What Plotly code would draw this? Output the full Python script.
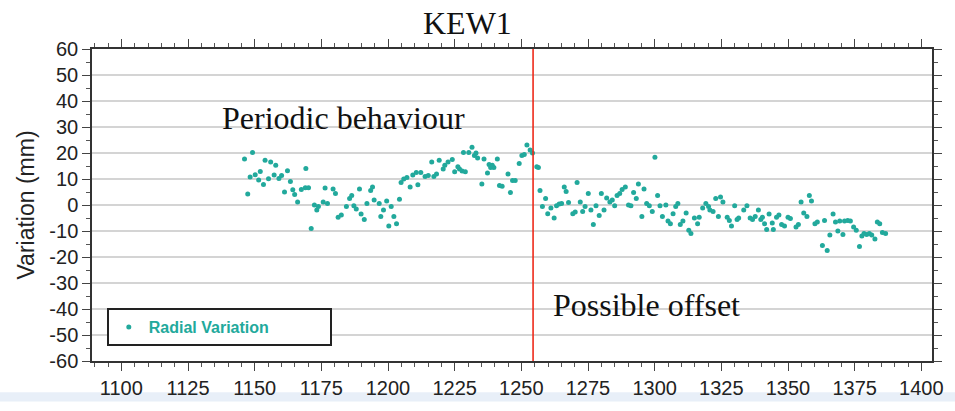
import plotly.graph_objects as go

days = [
    1146.2, 1147.4, 1148.3, 1149.2, 1150.2, 1151.5, 1152.1, 1153.3, 1153.9, 1155.2,
    1156.0, 1157.3, 1157.9, 1159.1, 1160.1, 1161.2, 1162.3, 1163.4, 1164.3, 1165.0,
    1166.1, 1167.5, 1169.0, 1169.2, 1170.2, 1171.2, 1172.4, 1173.3, 1173.9, 1175.7,
    1176.4, 1177.3, 1179.4, 1180.3, 1181.3, 1182.5, 1184.4, 1185.6, 1186.4, 1187.2,
    1188.1, 1189.3, 1189.9, 1191.1, 1192.1, 1193.5, 1194.2, 1194.8,
    1196.7, 1197.3, 1198.3, 1199.5, 1200.3, 1201.2, 1202.2, 1203.2, 1204.3, 1204.9,
    1205.9, 1207.1, 1208.3, 1209.3, 1210.6, 1211.2, 1212.3, 1213.9, 1215.1, 1216.4,
    1217.2, 1218.2, 1219.2, 1220.7, 1221.3, 1222.5, 1224.1, 1225.0, 1226.2, 1226.8,
    1227.8, 1228.3, 1229.0, 1230.3, 1231.5, 1232.4, 1233.0, 1233.6, 1235.2, 1236.0,
    1237.3, 1237.9, 1238.5, 1239.1, 1239.7, 1241.0, 1241.8, 1242.8, 1245.0, 1245.9,
    1246.7, 1247.7, 1249.2, 1250.2, 1251.1,
    1252.1, 1253.3, 1254.2, 1255.8, 1256.4, 1257.0, 1257.9, 1259.1, 1259.9, 1261.1,
    1262.3, 1263.2, 1264.2, 1265.1, 1266.1, 1266.8, 1267.7, 1269.3, 1270.2, 1270.9,
    1272.1, 1273.0, 1273.9, 1275.1, 1276.1, 1277.0, 1278.0, 1279.2, 1280.0, 1281.0,
    1282.0, 1283.2, 1284.1, 1285.0, 1285.9, 1286.9, 1287.8, 1289.0, 1290.2, 1291.1,
    1292.1, 1293.1, 1293.9, 1295.2, 1296.0, 1297.0, 1298.0, 1299.1, 1300.1, 1301.1,
    1302.0, 1302.9, 1304.2, 1305.0, 1305.9, 1306.9, 1307.9, 1308.7, 1309.6, 1310.6,
    1311.8, 1312.8, 1313.6,
    1314.9, 1316.1, 1316.7, 1318.0, 1319.2, 1320.2, 1320.7, 1321.9, 1322.9, 1323.9,
    1324.7, 1325.6, 1327.2, 1328.0, 1328.8, 1330.0, 1330.9, 1331.5, 1333.4, 1334.6,
    1335.8, 1336.7, 1337.7, 1338.9, 1339.8, 1340.4, 1341.2, 1342.0, 1342.9, 1344.1,
    1344.5, 1345.7, 1346.6, 1347.6, 1348.7, 1350.0, 1350.9, 1353.0, 1353.9, 1354.9,
    1355.9, 1357.1, 1358.0, 1358.8, 1360.1, 1361.0, 1362.9, 1363.7, 1364.7, 1365.7,
    1366.9, 1367.8, 1368.7, 1369.4, 1370.6, 1371.2, 1372.4, 1373.4, 1374.6, 1375.6,
    1376.8, 1377.7, 1378.5, 1379.5, 1380.5, 1381.4, 1382.6, 1383.5, 1384.4, 1385.4,
    1386.6,
]

radial_mm = [
    17.7, 4.2, 10.8, 20.2, 11.6, 9.6, 12.9, 7.9, 17.2, 10.1,
    16.5, 11.5, 15.3, 10.2, 11.3, 5.0, 13.2, 9.0, 5.9, 4.0,
    1.2, 6.0, 6.6, 14.0, 6.6, -9.0, 0.0, -1.9, -0.6, 1.2,
    6.5, 0.6, 6.2, 4.4, -4.7, -3.8, -0.6, 2.5, 3.7, -0.3,
    -1.5, 6.2, -3.5, -5.6, 0.6, 5.6, 6.9, 1.9,
    0.6, -4.4, -1.9, 1.5, -8.1, -0.6, -4.4, -7.2, 2.2, 8.7,
    10.0, 10.6, 6.9, 11.5, 12.5, 7.8, 12.5, 11.0, 11.3, 16.5,
    11.0, 11.9, 17.2, 13.8, 15.3, 16.5, 17.5, 12.8, 14.7, 13.8,
    13.1, 20.2, 12.8, 20.2, 22.2, 19.0, 20.0, 18.1, 8.1, 17.7,
    12.3, 15.6, 14.4, 15.3, 14.4, 17.7, 7.5, 7.2, 11.9, 4.8,
    9.4, 9.4, 16.0, 19.0, 19.4,
    23.1, 21.2, 20.0, 14.7, 14.4, 5.6, -0.6, 2.5, -3.4, -1.2,
    -5.0, -0.3, 0.4, 0.6, 6.9, 5.2, 1.0, -3.4, -2.7, 8.7,
    1.2, -2.5, -0.6, 4.4, -1.9, -7.5, -0.3, -4.0, 4.4, -1.9,
    2.7, 1.2, 1.9, -0.3, 3.7, 4.4, 6.0, 6.9, 0.0, -0.3,
    4.8, 2.5, 8.1, -4.4, 6.2, 0.6, -0.3, -2.5, 18.4, 3.7,
    -0.3, -4.4, 0.0, -6.2, -7.2, -3.4, -0.6, 0.6, -7.5, -6.2,
    -3.1, -9.7, -11.0,
    -5.0, -7.2, -4.7, -1.2, 0.6, -0.6, -1.9, -2.5, 2.5, -4.4,
    3.1, 1.2, -4.7, -6.0, -8.1, -0.3, -5.6, -5.0, -1.9, -0.3,
    -5.0, -5.6, -4.4, -1.9, -5.6, -4.7, -7.2, -9.4, -3.5, -6.9,
    -9.4, -4.7, -3.8, -7.5, -8.1, -4.7, -5.2, -8.5, -7.5, 1.2,
    -3.1, -4.4, 3.7, 1.5, -7.2, -6.5, -15.6, -6.0, -17.5, -11.5,
    -3.5, -6.5, -10.0, -6.2, -11.3, -6.2, -6.0, -6.2, -8.5, -9.7,
    -16.0, -11.9, -11.0, -11.3, -11.0, -11.5, -13.1, -6.5, -7.2, -10.6,
    -11.0,
]

offset_day = 1254.4
x_range = [1089, 1404]
y_range = [-60, 60]
y_ticks = list(range(-60, 61, 10))
y_tick_labels = ["-60", "-50", "-40", "-30", "-20", "-10", "0",
                 "10", "20", "30", "40", "50", "60"]
x_ticks = list(range(1100, 1401, 25))

teal = "#22a99c"
sans = "Liberation Sans, Arial, sans-serif"
serif = "Liberation Serif, Times New Roman, serif"

fig = go.Figure()
fig.add_trace(go.Scatter(
    x=days, y=radial_mm, mode="markers", name="Radial Variation",
    marker=dict(color=teal, size=5),
))

fig.add_shape(type="line", x0=offset_day, x1=offset_day, y0=y_range[0], y1=y_range[1],
              xref="x", yref="y", line=dict(color="#ee2a1a", width=1.6))

# light blue strip at bottom of the picture
fig.add_shape(type="rect", xref="paper", yref="paper", x0=-0.2, x1=1.05,
              y0=-0.13, y1=-0.1, fillcolor="#e8eff8", line=dict(width=0), layer="below")

fig.add_annotation(text="KEW1", xref="paper", yref="paper", x=0.447, y=1.084,
                   showarrow=False, font=dict(family=serif, size=32, color="#111"),
                   xanchor="center", yanchor="middle")
fig.add_annotation(text="Periodic behaviour", xref="x", yref="y", x=1137, y=33.4,
                   showarrow=False, font=dict(family=serif, size=32, color="#111"),
                   xanchor="left", yanchor="middle")
fig.add_annotation(text="Possible offset", xref="x", yref="y", x=1261, y=-38.3,
                   showarrow=False, font=dict(family=serif, size=32, color="#111"),
                   xanchor="left", yanchor="middle")

axis_common = dict(
    showline=True, linecolor="#333", linewidth=1.5, mirror="ticks",
    ticks="outside", ticklen=8, tickwidth=1.2, tickcolor="#444",
    tickfont=dict(family=sans, size=20, color="#222"),
    zeroline=False,
)

fig.update_xaxes(
    range=x_range, tickmode="array", tickvals=x_ticks, showgrid=False,
    minor=dict(dtick=5, tick0=1100, ticks="outside", ticklen=4, tickwidth=1, tickcolor="#555", showgrid=False),
    **axis_common,
)
fig.update_yaxes(
    range=y_range, tickmode="array", tickvals=y_ticks, ticktext=y_tick_labels, showgrid=True,
    gridcolor="#d4d4d4", gridwidth=1.5,
    minor=dict(dtick=5, tick0=0, ticks="outside", ticklen=4, tickwidth=1, tickcolor="#555", showgrid=False),
    title=dict(text="Variation (mm)", font=dict(family=sans, size=23, color="#222"), standoff=8),
    **axis_common,
)

fig.update_layout(
    width=955, height=411,
    margin=dict(l=92, r=13, t=49, b=41),
    paper_bgcolor="white", plot_bgcolor="white",
    showlegend=True,
    legend=dict(
        orientation="h",
        x=0.0176, y=0.048, xanchor="left", yanchor="bottom",
        bgcolor="white", bordercolor="#222", borderwidth=2,
        font=dict(family=sans, size=16, color=teal, weight="bold"),
        entrywidth=176, entrywidthmode="pixels",
    ),
)

fig.write_html("out.html")
